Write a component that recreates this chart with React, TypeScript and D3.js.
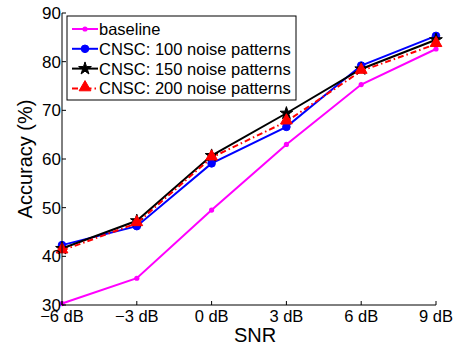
import React from "react"
import * as d3 from "d3"

const snrLabels = ["\u22126 dB", "\u22123 dB", "0 dB", "3 dB", "6 dB", "9 dB"]
const yTicks = [30, 40, 50, 60, 70, 80, 90]

const baseline = [30.3, 35.5, 49.5, 63.0, 75.3, 82.6]
const cnsc100 = [42.3, 46.2, 59.1, 66.6, 79.2, 85.3]
const cnsc150 = [41.6, 47.3, 60.7, 69.4, 78.5, 84.5]
const cnsc200 = [41.2, 46.8, 60.3, 67.7, 78.1, 83.6]

const seriesNames = [
  "baseline",
  "CNSC: 100 noise patterns",
  "CNSC: 150 noise patterns",
  "CNSC: 200 noise patterns",
]

const W = 456
const H = 346
const MARGIN = { top: 13, right: 20, bottom: 41, left: 62 }
const FONT = "'Liberation Sans', Arial, Helvetica, sans-serif"

type Marker = "dot" | "circle" | "star" | "triangle"

const SERIES: { name: string; values: number[]; color: string; dash?: string; marker: Marker }[] = [
  { name: seriesNames[0], values: baseline, color: "#ff00ff", marker: "dot" },
  { name: seriesNames[1], values: cnsc100, color: "#0000ff", marker: "circle" },
  { name: seriesNames[2], values: cnsc150, color: "#000000", marker: "star" },
  { name: seriesNames[3], values: cnsc200, color: "#ff0000", dash: "6,3,1.5,3", marker: "triangle" },
]

function MarkerShape({ type, x, y, color }: { type: Marker; x: number; y: number; color: string }) {
  if (type === "dot") return <circle cx={x} cy={y} r={2.6} fill={color} />
  if (type === "circle") return <circle cx={x} cy={y} r={3.8} fill={color} stroke={color} strokeWidth={1} />
  const sym = type === "star" ? d3.symbolStar : d3.symbolTriangle
  const size = type === "star" ? 50 : 60
  const d = d3.symbol().type(sym).size(size)() ?? ""
  return <path d={d} transform={`translate(${x},${y - (type === "triangle" ? 1 : 0)})`} fill={color} stroke={color} strokeWidth={1} />
}

export default function App() {
  const innerW = W - MARGIN.left - MARGIN.right
  const innerH = H - MARGIN.top - MARGIN.bottom

  const x = d3.scalePoint<string>().domain(snrLabels).range([0, innerW])
  const y = d3.scaleLinear().domain([30, 90]).range([innerH, 0])

  const line = d3
    .line<number>()
    .x((_, i) => x(snrLabels[i]) ?? 0)
    .y((d) => y(d))

  return (
    <svg
      width={W}
      height={H}
      style={{ position: "absolute", left: 0, top: 0, background: "#fff" }}
      fontFamily={FONT}
    >
      <g transform={`translate(${MARGIN.left},${MARGIN.top})`}>
        {/* series */}
        {SERIES.map((s) => (
          <g key={s.name}>
            <path d={line(s.values) ?? ""} fill="none" stroke={s.color} strokeWidth={2} strokeDasharray={s.dash} />
            {s.values.map((v, i) => (
              <MarkerShape key={i} type={s.marker} x={x(snrLabels[i]) ?? 0} y={y(v)} color={s.color} />
            ))}
          </g>
        ))}

        {/* axes */}
        <line x1={0} x2={0} y1={0} y2={innerH} stroke="#000" strokeWidth={1} />
        <line x1={0} x2={innerW} y1={innerH} y2={innerH} stroke="#000" strokeWidth={1} />
        {yTicks.map((t) => (
          <g key={t} transform={`translate(0,${y(t)})`}>
            <line x1={0} x2={4} stroke="#000" />
            <text x={-1} dy="0.36em" textAnchor="end" fontSize={17} fill="#000">
              {t}
            </text>
          </g>
        ))}
        {snrLabels.map((l) => (
          <g key={l} transform={`translate(${x(l)},${innerH})`}>
            <line y1={0} y2={-4} stroke="#000" />
            <text y={17} textAnchor="middle" fontSize={16.5} fill="#000">
              {l}
            </text>
          </g>
        ))}

        {/* legend */}
        <g transform="translate(5,3)">
          <rect x={0} y={0} width={229} height={84} fill="#fff" stroke="#000" strokeWidth={1} />
          {SERIES.map((s, i) => {
            const ly = 13 + i * 19.8
            return (
              <g key={s.name} transform={`translate(0,${ly})`}>
                <line x1={5} x2={31} y1={0} y2={0} stroke={s.color} strokeWidth={2} strokeDasharray={s.dash} />
                <MarkerShape type={s.marker} x={18} y={0} color={s.color} />
                <text x={32} dy="0.36em" fontSize={16.5} fill="#000">
                  {s.name}
                </text>
              </g>
            )
          })}
        </g>
      </g>

      <text x={MARGIN.left + innerW / 2 + 6} y={342} textAnchor="middle" fontSize={20} fill="#000">
        SNR
      </text>
      <text
        transform={`translate(32,${MARGIN.top + innerH / 2}) rotate(-90)`}
        textAnchor="middle"
        fontSize={20}
        fill="#000"
      >
        Accuracy (%)
      </text>
    </svg>
  )
}
